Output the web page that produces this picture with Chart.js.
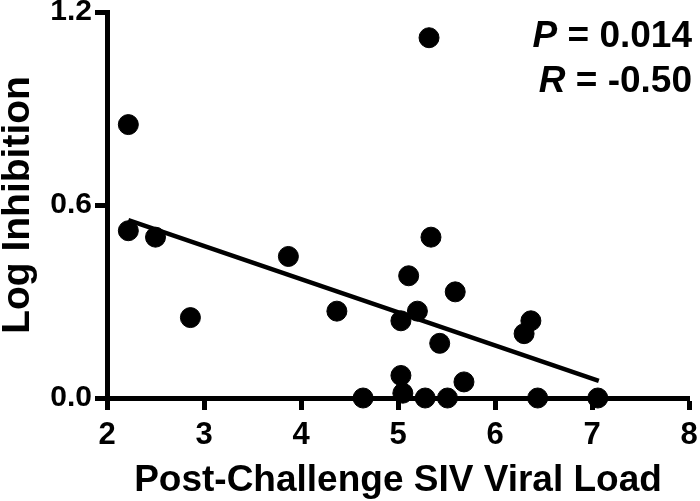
<!DOCTYPE html>
<html>
<head>
<meta charset="utf-8">
<script src="https://cdn.jsdelivr.net/npm/chart.js@4.4.1/dist/chart.umd.min.js"></script>
<style>
  html, body { margin: 0; padding: 0; background: #fff; }
  #wrap { width: 700px; height: 501px; }
</style>
</head>
<body>
<div id="wrap"><canvas id="grafico"></canvas></div>
<script>
// valores
const viralLoad = [2.22, 2.22, 2.50, 2.86, 3.87, 4.37, 5.32, 5.34, 5.11, 5.59, 5.20, 5.03,
                   6.37, 6.30, 5.43, 5.03, 5.68, 4.64, 5.05, 5.28, 5.51, 6.44, 7.06];
const logInhibition = [0.85, 0.52, 0.50, 0.25, 0.44, 0.27, 1.12, 0.50, 0.38, 0.33, 0.27, 0.24,
                       0.24, 0.20, 0.17, 0.07, 0.05, 0.00, 0.015, 0.00, 0.00, 0.00, 0.00];
const fitX = [2.22, 7.07];
const fitY = [0.553, 0.053];
const xTicks = [2, 3, 4, 5, 6, 7, 8];
const yTicks = [0.0, 0.6, 1.2];
const statP = "0.014";
const statR = "-0.50";

const FONT = "'Liberation Sans', Arial, sans-serif";
const ctx = document.getElementById("grafico").getContext("2d");

// texto P / R no canto
const statsPlugin = {
  id: "stats",
  afterDraw(chart) {
    const c = chart.ctx;
    const right = 692;
    const lines = [["P", " = " + statP, 47], ["R", " = " + statR, 92]];
    c.save();
    c.fillStyle = "#000";
    c.textBaseline = "alphabetic";
    lines.forEach(([letra, resto, y]) => {
      c.font = "bold 37px " + FONT;
      const wResto = c.measureText(resto).width;
      c.textAlign = "right";
      c.fillText(resto, right, y);
      c.font = "italic bold 37px " + FONT;
      c.fillText(letra, right - wResto, y);
    });
    c.restore();
  }
};

const grafico = new Chart(ctx, {
  type: "scatter",
  data: {
    datasets: [
      {
        label: "dados",
        data: viralLoad.map((x, i) => ({ x: x, y: logInhibition[i] })),
        backgroundColor: "#000",
        borderColor: "#000",
        pointRadius: 10,
        pointHoverRadius: 10,
        clip: false
      },
      {
        label: "ajuste",
        type: "line",
        data: fitX.map((x, i) => ({ x: x, y: fitY[i] })),
        borderColor: "#000",
        borderWidth: 4.5,
        pointRadius: 0,
        fill: false,
        clip: false
      }
    ]
  },
  options: {
    responsive: true,
    maintainAspectRatio: false,
    animation: false,
    layout: { padding: { top: 12, right: 9, left: 0, bottom: 0 } },
    plugins: { legend: { display: false }, tooltip: { enabled: false } },
    scales: {
      x: {
        type: "linear",
        min: 2,
        max: 8,
        afterBuildTicks: s => { s.ticks = xTicks.map(v => ({ value: v })); },
        afterFit: s => { s.height = 103; s.paddingLeft = 0; s.paddingRight = 0; },
        border: { display: true, color: "#000", width: 5 },
        grid: { drawOnChartArea: false, drawTicks: true, tickLength: 12, tickWidth: 5, tickColor: "#000" },
        ticks: { color: "#000", padding: 7, font: { family: FONT, size: 31, weight: "bold" } },
        title: {
          display: true,
          text: "Post-Challenge SIV Viral Load",
          color: "#000",
          font: { family: FONT, size: 37, weight: "bold", lineHeight: 1 },
          padding: { top: 0, bottom: 2 }
        }
      },
      y: {
        type: "linear",
        min: 0,
        max: 1.2,
        afterBuildTicks: s => { s.ticks = yTicks.map(v => ({ value: v })); },
        afterFit: s => { s.width = 107; s.paddingTop = 0; s.paddingBottom = 0; },
        border: { display: true, color: "#000", width: 5 },
        grid: { drawOnChartArea: false, drawTicks: true, tickLength: 12, tickWidth: 5, tickColor: "#000" },
        ticks: {
          color: "#000",
          padding: 3,
          font: { family: FONT, size: 30, weight: "bold" },
          callback: v => Number(v).toFixed(1)
        },
        title: {
          display: true,
          text: "Log Inhibition",
          color: "#000",
          font: { family: FONT, size: 39, weight: "bold", lineHeight: 0.94 },
          padding: { top: 0, bottom: 0 }
        }
      }
    }
  },
  plugins: [statsPlugin]
});
</script>
</body>
</html>
